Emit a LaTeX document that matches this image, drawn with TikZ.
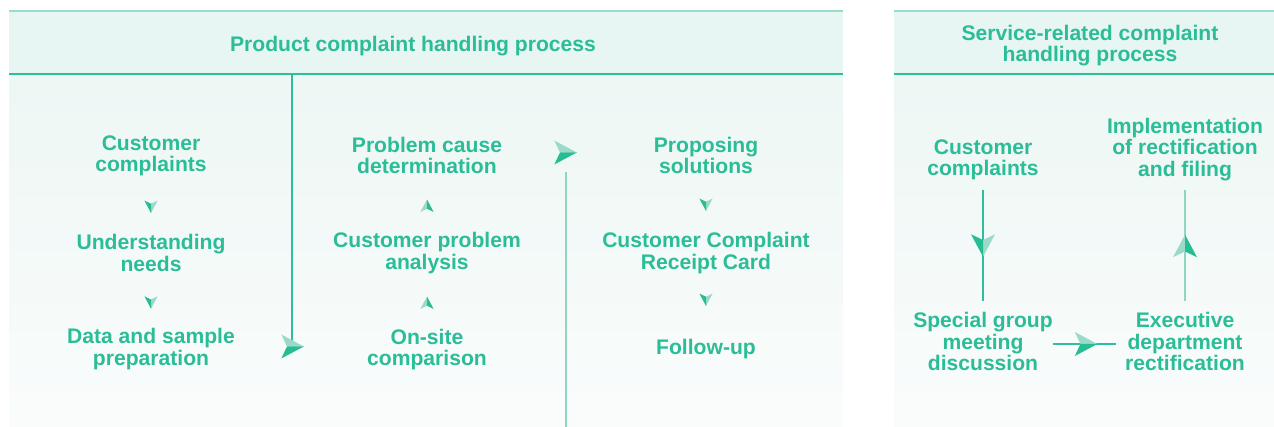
\documentclass[tikz,border=0pt]{standalone}
\usepackage{fontspec}
\setmainfont{Liberation Sans}
\usetikzlibrary{calc}
\definecolor{tealc}{HTML}{2ABD97}
\definecolor{darkc}{HTML}{26BC94}
\definecolor{lightc}{HTML}{9DD9C9}
\definecolor{hdrc}{HTML}{E7F6F2}
\definecolor{bodytop}{HTML}{EDF7F4}
\definecolor{bodybot}{HTML}{FAFCFC}
\definecolor{borderc}{HTML}{9ADBCB}
\definecolor{lineD}{HTML}{2DBF9B}
\definecolor{lineL}{HTML}{8ED6C3}
\begin{document}
\begin{tikzpicture}[x=1pt,y=-1pt,
  lbl/.style={font=\bfseries\fontsize{21.1}{21.2}\selectfont, text=tealc, align=center, inner sep=0pt},
  hdrline/.style={draw=lineD, line width=1.2pt},
  topline/.style={draw=borderc, line width=1.6pt},
  darkline/.style={draw=lineD, line width=1.3pt},
  lightline/.style={draw=lineL, line width=1.6pt},
  dart/.pic={
    \fill[lightc] (-5.5,0) -- (-11.2,-12) -- (11.3,0) -- cycle;
    \fill[darkc] (-5.5,0) -- (-11.2,12) -- (11.3,0) -- cycle;
  },
]
\useasboundingbox (0,0) rectangle (1274,427);
% ---------- panels ----------
\fill[top color=bodytop, bottom color=bodybot] (9,74) rectangle (843,427);
\fill[hdrc] (9,11) rectangle (843,74);
\fill[top color=bodytop, bottom color=bodybot] (894,74) rectangle (1274,427);
\fill[hdrc] (894,11) rectangle (1274,74);
\draw[topline] (9,11) -- (843,11);
\draw[topline] (894,11) -- (1274,11);
\draw[hdrline] (9,74) -- (843,74);
\draw[hdrline] (894,74) -- (1274,74);

% ---------- titles ----------
\node[lbl] (t1) at (413,46) {Product complaint handling process};
\node[lbl] (t2) at (1090,45.5) {Service-related complaint\\handling process};

% ---------- left panel columns ----------
\node[lbl] (c1a) at (151,155.5) {Customer\\complaints};
\node[lbl] (c1b) at (151,253) {Understanding\\needs};
\node[lbl] (c1c) at (151,349) {Data and sample\\preparation};

\node[lbl] (c2a) at (427,155.5) {Problem cause\\determination};
\node[lbl] (c2b) at (427,253) {Customer problem\\analysis};
\node[lbl] (c2c) at (427,349.5) {On-site\\comparison};

\node[lbl] (c3a) at (706,155.5) {Proposing\\solutions};
\node[lbl] (c3b) at (706,253) {Customer Complaint\\Receipt Card};
\node[lbl] (c3c) at (706,349.5) {Follow-up};

% small arrowheads inside columns
\path ($(c1a)!0.5!(c1b)+(0,2.5)$) pic[scale=.55,rotate=-90] {dart};
\path ($(c1b)!0.5!(c1c)+(0,1.5)$) pic[scale=.55,rotate=-90] {dart};
\path ($(c2c)!0.5!(c2b)+(0,1.5)$) pic[scale=.55,rotate=90] {dart};
\path ($(c2b)!0.5!(c2a)+(0,1.5)$) pic[scale=.55,rotate=90] {dart};
\path ($(c3a)!0.5!(c3b)+(0,0.5)$) pic[scale=.55,rotate=-90] {dart};
\path ($(c3b)!0.5!(c3c)+(0,-1.5)$) pic[scale=.55,rotate=-90] {dart};

% column-to-column connectors (dividers with arrowheads)
\coordinate (h1) at (292,74);
\coordinate (ar1) at (292.5,346.5);
\draw[darkline] (h1) -- (292,346);
\path (ar1) pic {dart};

\coordinate (ar2) at (565.5,152.5);
\coordinate (b2) at (566,427);
\draw[lightline] (566,172) -- (b2);
\path (ar2) pic {dart};

% ---------- right panel ----------
\node[lbl] (r1) at (983,160) {Customer\\complaints};
\node[lbl] (r2) at (983,341.5) {Special group\\meeting\\discussion};
\node[lbl] (r3) at (1185,341.5) {Executive\\department\\rectification};
\node[lbl] (r4) at (1185,149.5) {Implementation\\of rectification\\and filing};

\draw[darkline, line width=1.2pt, shorten <=30pt, shorten >=40.5pt] (r1.center) -- (r2.center);
\path ($(r1.center)!0.5!(r2.center)+(0,-5.25)$) pic[rotate=-90] {dart};

\draw[darkline, line width=1.2pt, shorten <=70pt, shorten >=69pt] ([yshift=-2.5pt]r2.center) -- ([yshift=-2.5pt]r3.center);
\path ($(r2.center)!0.5!(r3.center)+(2,2.5)$) pic {dart};

\draw[lightline, shorten <=40.5pt, shorten >=40.5pt] (r3.center) -- (r4.center);
\path ($(r3.center)!0.5!(r4.center)+(0,0.5)$) pic[rotate=90] {dart};
\end{tikzpicture}
\end{document}
